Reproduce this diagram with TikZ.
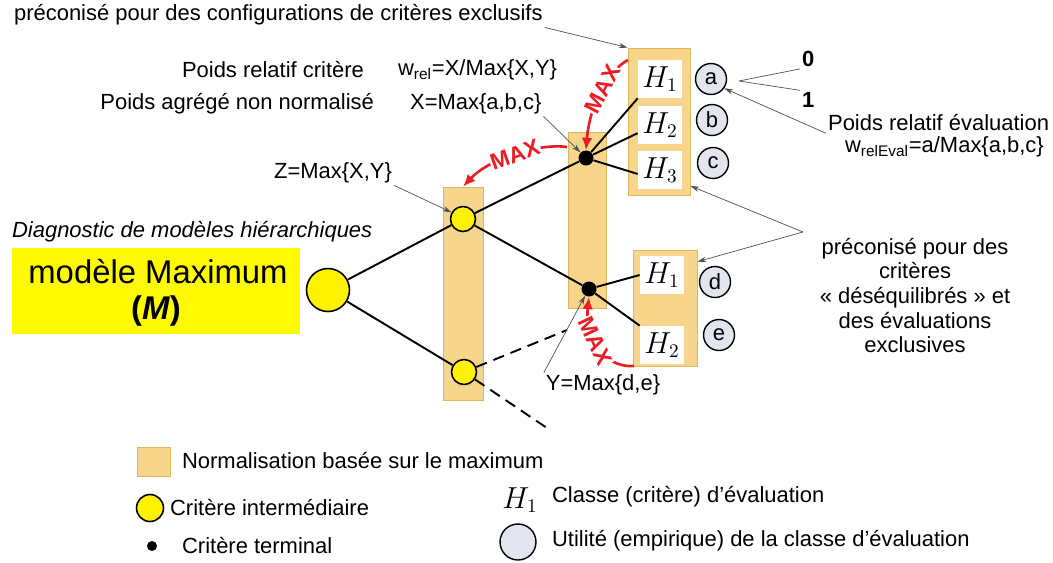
\documentclass[tikz,border=0pt]{standalone}
\usepackage[no-math]{fontspec}
\setmainfont{Liberation Sans}
\usepackage{tikz}
\usetikzlibrary{arrows.meta, fit, calc}
\usepackage{xcolor}
\definecolor{normFill}{RGB}{247, 214, 140}
\definecolor{normDraw}{RGB}{222, 182, 96}
\definecolor{maxRed}{RGB}{236, 28, 36}
\definecolor{utilFill}{RGB}{226, 229, 238}
\definecolor{leadGray}{RGB}{80, 80, 80}
\definecolor{modYellow}{RGB}{255, 250, 0}
\newcommand{\basefont}{\fontsize{12.5}{14}\selectfont}

\begin{document}
\begin{tikzpicture}[
  x=0.02cm, y=-0.02cm,
  font=\basefont,
  lbl/.style={inner sep=1pt},
  normbar/.style={draw=normDraw, fill=normFill, line width=0.5pt, inner sep=0pt},
  hlab/.style={fill=white, minimum width=0.88cm, minimum height=0.76cm, inner sep=0pt,
               font=\fontsize{16}{16}\selectfont},
  util/.style={circle, draw, line width=0.8pt, fill=utilFill, minimum size=0.62cm, inner sep=0pt},
  inter/.style={circle, draw, line width=0.9pt, fill=yellow, minimum size=0.5cm, inner sep=0pt},
  term/.style={circle, fill=black, minimum size=0.3cm, inner sep=0pt},
  edge/.style={line width=1.1pt},
  leadline/.style={draw=leadGray, line width=0.4pt},
  leader/.style={leadline, -{Stealth[length=5pt, width=3pt]}},
  maxarrow/.style={maxRed, line width=1.5pt, -{Latex[length=7pt, width=6pt]}},
  maxlabel/.style={sloped, fill=white, inner sep=0.5pt, text=maxRed,
                   font=\fontsize{13}{13}\selectfont\bfseries}
]
  \useasboundingbox (0,0) rectangle (1053,562);

  % -- normalisation bars and classes --
  \node[normbar, fit={(443,187) (483,400)}] (zbar) {};
  \node[normbar, fit={(568,132) (606,308)}] (xybar) {};
  \node[normbar, fit={(628,48) (690,195)}] (g1) {};
  \node[normbar, fit={(633,250) (697,366)}] (g2) {};

  \node[hlab] (h11) at (660,79) {$H_1$};
  \node[hlab] (h12) at (660,125) {$H_2$};
  \node[hlab] (h13) at (660,170) {$H_3$};
  \node[hlab] (h21) at (662,275) {$H_1$};
  \node[hlab] (h22) at (662,345) {$H_2$};

  \node[util] (ca) at (711,79) {a};
  \node[util] (cb) at (712,120) {b};
  \node[util] (cc) at (713,163) {c};
  \node[util] (cd) at (715,282) {d};
  \node[util] (ce) at (719,335) {e};

  % -- tree --
  \node[inter, minimum size=0.86cm] (root) at (328,290) {};
  \node[inter] (zn) at (463,219) {};
  \node[inter] (ln) at (464,372) {};
  \node[term] (xdot) at (586,158) {};
  \node[term] (ydot) at (589,289) {};

  \draw[edge] (root) -- (zn);
  \draw[edge] (root) -- (ln);
  \draw[edge] (zn) -- (xdot);
  \draw[edge] (zn) -- (ydot);
  \draw[edge] (xdot) -- (h11.south west);
  \draw[edge] (xdot) -- (h12.200);
  \draw[edge] (xdot) -- (h13.190);
  \draw[edge] (ydot) -- (h21.west);
  \draw[edge] (ydot) -- (h22.north west);
  \coordinate (d1) at (567,330);
  \coordinate (d2) at (547,428);
  \draw[edge, dash pattern=on 6.5pt off 4pt] (ln) -- (d1);
  \draw[edge, dash pattern=on 6.5pt off 4pt] (ln) -- (d2);

  % -- MAX arrows --
  \coordinate (m1s) at (628,60);
  \draw[maxarrow] (m1s) .. controls (612,68) and (590,100) .. (xdot.north)
    node[maxlabel, pos=0.5] {MAX};
  \coordinate (m2s) at (567,147);
  \draw[maxarrow] (m2s) .. controls (540,143) and (490,158) .. (zbar.north)
    node[maxlabel, pos=0.5] {MAX};
  \coordinate (m3s) at (634,366);
  \draw[maxarrow] (m3s) .. controls (600,368) and (585,332) .. (ydot.south)
    node[maxlabel, pos=0.55] {MAX};

  % -- labels --
  \node[lbl, anchor=west] (topnote) at (12,15)
    {préconisé pour des configurations de critères exclusifs};
  \node[lbl, anchor=east] (relw) at (366,70) {Poids relatif critère};
  \node[lbl, anchor=west] (wrel) at (396,70) {w\textsubscript{rel}=X/Max\{X,Y\}};
  \node[lbl, anchor=east] (aggw) at (376,104) {Poids agrégé non normalisé};
  \node[lbl, anchor=west] (xmax) at (408,104) {X=Max\{a,b,c\}};
  \node[lbl] (zlab) at (333,173) {Z=Max\{X,Y\}};
  \node[lbl] (ymax) at (603,385) {Y=Max\{d,e\}};
  \node[lbl, anchor=west, font=\basefont\bfseries] (zero) at (800,59) {0};
  \node[lbl, anchor=west, font=\basefont\bfseries] (one) at (800,100) {1};
  \node[lbl, anchor=west] (peval) at (826,123) {Poids relatif évaluation};
  \node[lbl, anchor=west] (weval) at (843,147) {w\textsubscript{relEval}=a/Max\{a,b,c\}};
  \node[lbl, align=center, anchor=north] (prec2) at (915,236)
    {préconisé pour des\\critères\\«~déséquilibrés~» et\\des évaluations\\exclusives};

  \draw[leader] (topnote.south east) -- (g1.north west);
  \draw[leader] (zlab.south east) -- (zn.150);
  \draw[leader] (xmax.south east) -- (xdot.135);
  \draw[leader] (ymax.north west) -- (ydot.240);
  \draw[leader] (peval.south west) -- (ca.-35);
  \coordinate (fork) at (739,81);
  \draw[leadline] (fork) -- (zero.south west);
  \draw[leadline] (fork) -- (one.north west);
  \coordinate (fork2) at (803,232);
  \draw[leader] (fork2) -- (g1.-64);
  \draw[leader] (fork2) -- (g2.55);

  % -- model title --
  \node[lbl, anchor=west, font=\basefont\itshape] (diag) at (10,232)
    {Diagnostic de modèles hiérarchiques};
  \node[fill=modYellow, inner sep=0pt, fit={(12,248) (300,334)}] (mbox) {};
  \node[font=\fontsize{18.7}{21.6}\selectfont] (mtitle) at (158,272) {modèle Maximum};
  \node[font=\fontsize{18.7}{21.6}\selectfont\bfseries] (msym) at (156,311) {(\textit{M})};

  % -- legend --
  \node[normbar, fit={(137,447) (170,476)}] (lgbar) {};
  \node[lbl, anchor=west] (lgbartxt) at (180,461) {Normalisation basée sur le maximum};
  \node[inter, minimum size=0.54cm] (lginter) at (150,508) {};
  \node[lbl, anchor=west] (lgintertxt) at (168,508) {Critère intermédiaire};
  \node[term, minimum size=0.2cm] (lgterm) at (152,546) {};
  \node[lbl, anchor=west] (lgtermtxt) at (180,546) {Critère terminal};
  \node[font=\fontsize{16}{16}\selectfont] (lgh) at (520,500) {$H_1$};
  \node[lbl, anchor=west] (lghtxt) at (550,497) {Classe (critère) d'évaluation};
  \node[util, minimum size=0.72cm] (lgutil) at (518,542) {};
  \node[lbl, anchor=west] (lgutiltxt) at (550,541) {Utilité (empirique) de la classe d'évaluation};
\end{tikzpicture}
\end{document}
